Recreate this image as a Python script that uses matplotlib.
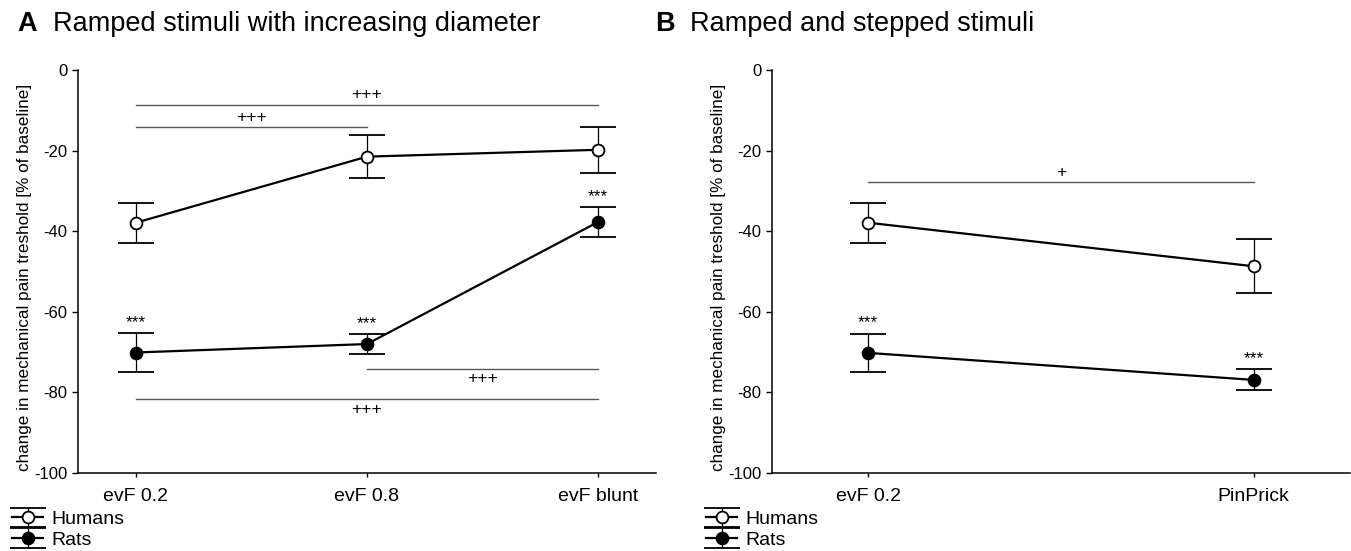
import numpy as np
import matplotlib
matplotlib.use('Agg')
import matplotlib.pyplot as plt

plt.rcParams['font.family'] = ['Liberation Sans', 'DejaVu Sans']
plt.rcParams['axes.unicode_minus'] = False

# panel A: ramped stimuli with increasing diameter
cats_a = ['evF 0.2', 'evF 0.8', 'evF blunt']
humans_a = [-37.9, -21.5, -19.8]
humans_a_err = [4.95, 5.3, 5.75]
rats_a = [-70.1, -68.0, -37.7]
rats_a_err = [4.75, 2.5, 3.7]
stars_a = ['***', '***', '***']

# panel B: ramped and stepped stimuli
cats_b = ['evF 0.2', 'PinPrick']
humans_b = [-37.9, -48.7]
humans_b_err = [4.95, 6.75]
rats_b = [-70.2, -76.9]
rats_b_err = [4.8, 2.6]
stars_b = ['***', '***']

# significance brackets: (from, to, y, label, side)
brackets_a = [(0, 2, -8.6, '+++', 'above'),
              (0, 1, -14.2, '+++', 'above'),
              (1, 2, -74.2, '+++', 'below'),
              (0, 2, -81.7, '+++', 'below')]
brackets_b = [(0, 1, -27.9, '+', 'above')]

W, H = 1351, 551
fig = plt.figure(figsize=(W / 100, H / 100), dpi=100)

top, bottom = 70, 473
ax_a = fig.add_axes([78 / W, 1 - bottom / H, (656 - 78) / W, (bottom - top) / H])
ax_b = fig.add_axes([772 / W, 1 - bottom / H, (1350 - 772) / W, (bottom - top) / H])


def draw_panel(ax, cats, hum, hum_err, rat, rat_err, stars, brackets):
    x = np.arange(len(cats))
    eb = dict(color='black', linewidth=1.6, elinewidth=0.9, capsize=13,
              capthick=0.9, markersize=8.5, markeredgewidth=1.3, zorder=3)
    ax.errorbar(x, hum, yerr=hum_err, marker='o', markerfacecolor='white',
                markeredgecolor='black', label='Humans', **eb)
    ax.errorbar(x, rat, yerr=rat_err, marker='o', markerfacecolor='black',
                markeredgecolor='black', label='Rats', **eb)

    for xi, yi, e, s in zip(x, rat, rat_err, stars):
        ax.text(xi, yi + e + 0.8, s, ha='center', va='bottom', fontsize=12.5)

    for x0, x1, y, lab, side in brackets:
        ax.plot([x0, x1], [y, y], color='0.35', linewidth=1.0, zorder=2)
        if side == 'above':
            ax.text((x0 + x1) / 2, y + 0.6, lab, ha='center', va='bottom', fontsize=12.5)
        else:
            ax.text((x0 + x1) / 2, y - 0.6, lab, ha='center', va='top', fontsize=12.5)

    ax.set_xlim(-0.25, len(cats) - 0.75)
    ax.set_ylim(-100, 0)
    ax.set_xticks(x)
    ax.set_xticklabels(cats, fontsize=14)
    ax.set_yticks([0, -20, -40, -60, -80, -100])
    ax.tick_params(axis='y', labelsize=12, length=4, width=1)
    ax.tick_params(axis='x', length=3, width=1, pad=8)
    for side in ['top', 'right']:
        ax.spines[side].set_visible(False)
    for side in ['left', 'bottom']:
        ax.spines[side].set_linewidth(1.1)
    ax.set_ylabel('change in mechanical pain treshold [% of baseline]', fontsize=12.3)
    ax.legend(loc='upper left', frameon=False, fontsize=14, handlelength=1.6,
              handletextpad=0.4, labelspacing=0.15, borderpad=0, borderaxespad=0)


draw_panel(ax_a, cats_a, humans_a, humans_a_err, rats_a, rats_a_err, stars_a, brackets_a)
draw_panel(ax_b, cats_b, humans_b, humans_b_err, rats_b, rats_b_err, stars_b, brackets_b)

# y labels and legends placed in axes fraction, from pixel offsets
for ax, ax_w in [(ax_a, 656 - 78), (ax_b, 1350 - 772)]:
    ax.yaxis.set_label_coords(-46 / ax_w, 0.485)
    ax.get_legend().set_bbox_to_anchor((-66 / ax_w, -0.093))

fig.text(17 / W, 1 - 24 / H, 'A', fontsize=19.5, fontweight='bold', va='center')
fig.text(53 / W, 1 - 24 / H, 'Ramped stimuli with increasing diameter', fontsize=19.5, va='center')
fig.text(655 / W, 1 - 24 / H, 'B', fontsize=19.5, fontweight='bold', va='center')
fig.text(690 / W, 1 - 24 / H, 'Ramped and stepped stimuli', fontsize=19.5, va='center')

fig.savefig('out.png', dpi=100, facecolor='white')
